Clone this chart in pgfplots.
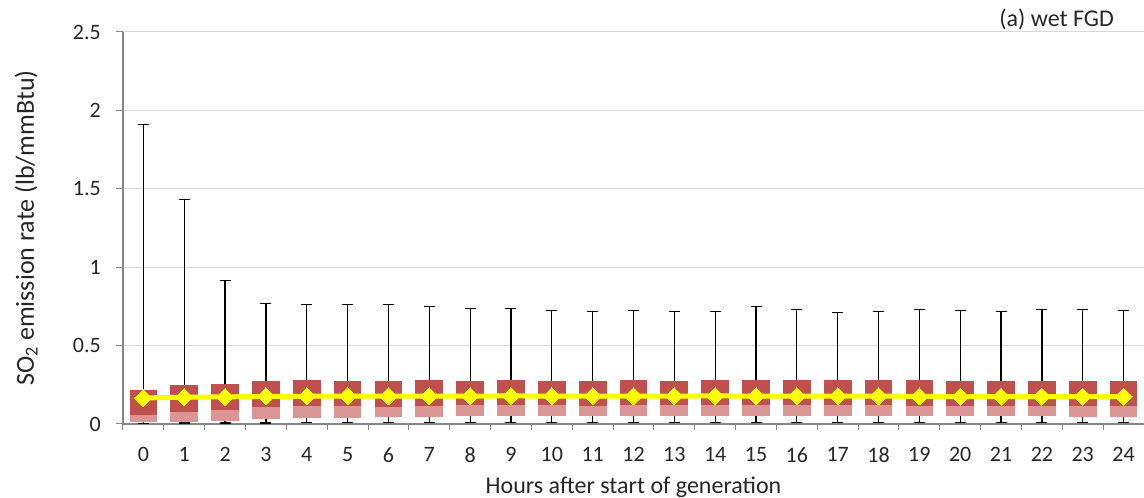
\documentclass[border=0pt]{standalone}
\usepackage{fontspec}
\setmainfont{Carlito}
\usepackage{pgfplots}
\usepgfplotslibrary{statistics}
\pgfplotsset{compat=1.18}
\usepackage{pgfplotstable}
\definecolor{boxdark}{HTML}{C0504D}
\definecolor{boxlight}{HTML}{D99694}
\definecolor{gridgray}{HTML}{D9D9D9}
\definecolor{axisgray}{HTML}{868686}
\definecolor{meanyellow}{HTML}{FFFF00}
\definecolor{txt}{HTML}{262626}
\pgfplotstableread{
k lw lq med uq uw mean
0 0.005 0.015 0.064 0.212 1.910 0.166
1 0.006 0.019 0.083 0.247 1.430 0.171
2 0.007 0.026 0.096 0.253 0.915 0.173
3 0.007 0.034 0.110 0.268 0.767 0.176
4 0.008 0.040 0.117 0.276 0.761 0.177
5 0.008 0.043 0.117 0.268 0.761 0.178
6 0.008 0.047 0.113 0.268 0.761 0.178
7 0.008 0.047 0.117 0.276 0.748 0.178
8 0.008 0.053 0.123 0.268 0.738 0.178
9 0.008 0.057 0.125 0.276 0.738 0.179
10 0.008 0.053 0.125 0.272 0.725 0.178
11 0.008 0.053 0.119 0.268 0.716 0.178
12 0.008 0.055 0.123 0.276 0.725 0.178
13 0.008 0.055 0.123 0.268 0.716 0.178
14 0.008 0.055 0.123 0.276 0.716 0.179
15 0.008 0.055 0.125 0.276 0.748 0.178
16 0.008 0.055 0.123 0.276 0.731 0.178
17 0.008 0.055 0.123 0.276 0.710 0.178
18 0.008 0.055 0.123 0.276 0.716 0.178
19 0.008 0.057 0.117 0.276 0.731 0.176
20 0.008 0.055 0.117 0.272 0.723 0.175
21 0.008 0.055 0.117 0.272 0.716 0.175
22 0.008 0.055 0.117 0.272 0.731 0.175
23 0.008 0.047 0.117 0.272 0.731 0.175
24 0.008 0.049 0.117 0.272 0.723 0.175
}\datatable
\begin{document}
\begin{tikzpicture}
\begin{axis}[
  at={(0,0)}, anchor=south west,
  scale only axis, width=1021bp, height=392bp,
  xmin=-0.5, xmax=24.5, ymin=0, ymax=2.5,
  xtick={0,...,24},
  minor xtick={-0.5,0.5,...,24.5},
  ytick={0,0.5,1,1.5,2,2.5},
  axis x line=bottom, axis y line=left,
  axis line style={draw=axisgray, line width=1.3bp, -},
  tick align=outside,
  xtick style={draw=none},
  minor x tick style={draw=axisgray, line width=1bp},
  minor tick length=6bp,
  ytick style={draw=axisgray, line width=1bp},
  major tick length=7bp,
  ymajorgrids,
  grid style={draw=gridgray, line width=1bp},
  /pgf/number format/assume math mode=true,
  tick label style={font=\fontsize{22bp}{26bp}\selectfont, text=txt},
  yticklabel style={anchor=east, inner sep=0pt, xshift=-15bp},
  xticklabel style={anchor=north, inner sep=0pt},
  xticklabel shift=16bp,
  xlabel={Hours after start of generation},
  ylabel={SO\textsubscript{2} emission rate (lb/mmBtu)},
  every axis x label/.style={at={(axis description cs:0.5,-0.178)}, anchor=base,
    font=\fontsize{24bp}{28bp}\selectfont, text=txt},
  every axis y label/.style={at={(axis description cs:-0.0872,0.5)}, anchor=base, rotate=90,
    font=\fontsize{26bp}{30bp}\selectfont, text=txt},
  clip=false,
  boxplot/draw direction=y,
  boxplot/draw/box/.code={%
    \fill[boxlight] (boxplot box cs:\pgfplotsboxplotvalue{lower quartile},0) rectangle (boxplot box cs:\pgfplotsboxplotvalue{median},1);
    \fill[boxdark] (boxplot box cs:\pgfplotsboxplotvalue{median},0) rectangle (boxplot box cs:\pgfplotsboxplotvalue{upper quartile},1);
  },
  boxplot/draw/median/.code={},
]
\pgfplotsinvokeforeach{0,...,24}{
  \pgfplotstablegetelem{#1}{lw}\of\datatable \edef\vlw{\pgfplotsretval}
  \pgfplotstablegetelem{#1}{lq}\of\datatable \edef\vlq{\pgfplotsretval}
  \pgfplotstablegetelem{#1}{med}\of\datatable \edef\vmed{\pgfplotsretval}
  \pgfplotstablegetelem{#1}{uq}\of\datatable \edef\vuq{\pgfplotsretval}
  \pgfplotstablegetelem{#1}{uw}\of\datatable \edef\vuw{\pgfplotsretval}
  \edef\doplot{\noexpand\addplot[black, line width=1.2bp,
    boxplot prepared={draw position=#1,
      lower whisker=\vlw, lower quartile=\vlq, median=\vmed,
      upper quartile=\vuq, upper whisker=\vuw,
      box extend=0.65, whisker extend=0.27}]
    coordinates {};}
  \doplot
}
\addplot[meanyellow, line width=5bp, line join=round,
  mark=square*, mark size=6bp,
  mark options={rotate=45, fill=meanyellow, draw=meanyellow, line width=0pt}]
  table[x=k, y=mean] {\datatable};
\node[anchor=base east, inner sep=0pt, font=\fontsize{24bp}{28bp}\selectfont, text=txt]
  at (axis description cs:0.9706,1.0128) {(a) wet FGD};
\end{axis}
\pgfresetboundingbox
\path[use as bounding box] (-123bp,-74bp) rectangle (1021bp,424bp);
\end{tikzpicture}
\end{document}
